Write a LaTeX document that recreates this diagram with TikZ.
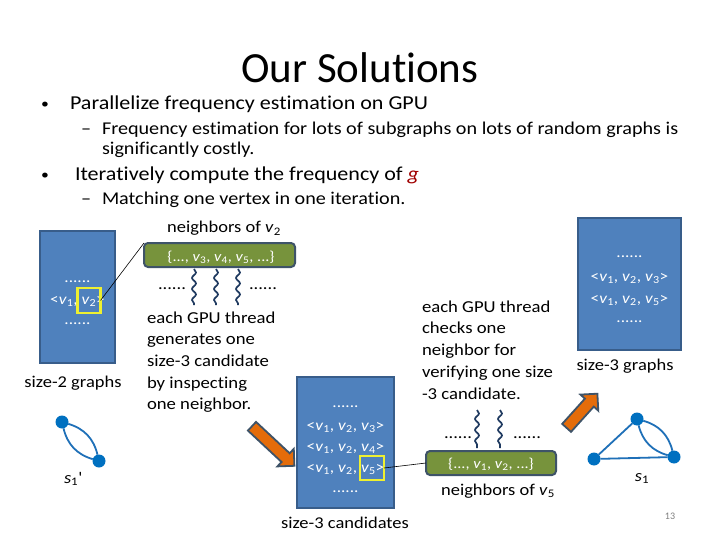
\documentclass[tikz,border=0pt]{standalone}
\usepackage{fontspec}
\setmainfont{Carlito}[FakeStretch=1.12, Ligatures={TeX,NoCommon}]
\newfontfamily\titlefam{Carlito}[Ligatures={TeX,NoCommon}]
\usetikzlibrary{shapes.arrows,decorations.pathmorphing}
\definecolor{boxblue}{HTML}{4F81BD}
\definecolor{boxedge}{HTML}{385D8A}
\definecolor{bargreen}{HTML}{77933C}
\definecolor{baredge}{HTML}{3E5368}
\definecolor{arrorange}{HTML}{E46C0A}
\definecolor{squignavy}{HTML}{1F3A60}
\definecolor{gnode}{HTML}{0070C0}
\definecolor{gedge}{HTML}{1F70B8}
\definecolor{gred}{HTML}{A00000}
\definecolor{ysqc}{HTML}{EEF030}
\newcommand{\vx}[1]{\textit{v}\textsubscript{#1}}
\begin{document}
\begin{tikzpicture}[x=1pt,y=-1pt,
 every node/.style={inner sep=0pt, outer sep=0pt},
 titlefont/.style={font=\titlefam\fontsize{43}{50}\selectfont, anchor=base},
 bulletdot/.style={font=\fontsize{14}{16}\selectfont, anchor=base},
 lvlone/.style={font=\fontsize{19.7}{24}\selectfont, anchor=base west},
 lvltwo/.style={font=\fontsize{18}{20}\selectfont, anchor=base west, align=left},
 lbl/.style={font=\fontsize{16.5}{19}\selectfont, anchor=base},
 para/.style={font=\fontsize{16.7}{21.7}\selectfont, anchor=base west, align=left},
 bluebox/.style={draw=boxedge, fill=boxblue, line width=2pt},
 btxt/.style={font=\fontsize{15.4}{18}\selectfont, text=white, anchor=base},
 gtxt/.style={font=\fontsize{14.5}{18}\selectfont, text=white, anchor=base},
 greenbar/.style={draw=baredge, fill=bargreen, line width=2pt, rounded corners=4pt},
 ysq/.style={draw=ysqc, line width=2.2pt},
 squig/.style={draw=squignavy, line width=1.7pt, decorate, decoration={snake, segment length=11pt, amplitude=2pt}},
 bigarrow/.style={single arrow, draw=baredge, fill=arrorange, line width=1.8pt, minimum width=24pt, single arrow head extend=6pt, inner sep=5pt},
 gv/.style={circle, fill=gnode, minimum size=13pt},
 ge/.style={draw=gedge, line width=1.8pt},
 connector/.style={draw=black, line width=0.6pt}
]
\useasboundingbox (0,0) rectangle (720,540);
\fill[white] (0,0) rectangle (720,540);

% title and bullets
\node[titlefont] (title) at (360,83) {Our Solutions};
\node[bulletdot] (b1dot) at (45,109) {•};
\node[lvlone] (b1) at (70,110) {Parallelize frequency estimation on GPU};
\node[lvltwo] (s1dash) at (81,135) {–};
\node[lvltwo] (s1t) at (102,155) {Frequency estimation for lots of subgraphs on lots of random graphs is\\significantly costly.};
\node[bulletdot] (b2dot) at (45,180) {•};
\node[lvlone] (b2) at (75,181) {Iteratively compute the frequency of \textcolor{gred}{\textit{g}}};
\node[lvltwo] (s2dash) at (81,205) {–};
\node[lvltwo] (s2t) at (102,205) {Matching one vertex in one iteration.};

% left box
\node[bluebox, minimum width=75pt, minimum height=132pt] (box2) at (77.5,297) {};
\node[btxt] (l2a) at (77.5,282) {......};
\node[btxt] (l2b) at (77.5,304) {<\vx1, \vx2>};
\node[btxt] (l2c) at (77.5,324) {......};
\node[ysq, minimum width=23pt, minimum height=25pt] (sq1) at (89,300.5) {};
\node[lbl] (lab2) at (73,387) {size-2 graphs};

% s1' graph
\node[gv] (pa) at (62,422) {};
\node[gv] (pb) at (99,461) {};
\draw[ge] (pa) to[bend left=30] (pb);
\draw[ge] (pa) to[bend right=30] (pb);
\node[lbl] (lps) at (73,483) {\textit{s}\textsubscript{1}\textquotesingle};

% neighbors of v2
\node[lbl] (nb2) at (224,233) {neighbors of \vx2};
\node[greenbar, minimum width=151pt, minimum height=24pt] (gb1) at (219.5,255) {};
\node[gtxt] (gb1t) at (221,261) {\{..., \vx3, \vx4, \vx5, ...\}};
\draw[connector] (sq1.east) -- (gb1.north west);
\draw[squig] (194,269) -- (194,305);
\draw[squig] (216,269) -- (216,305);
\draw[squig] (238,269) -- (238,305);
\node[lbl] (d1l) at (172,289) {......};
\node[lbl] (d1r) at (263,289) {......};
\node[para] (p1) at (147,409.8) {each GPU thread\\generates one\\size-3 candidate\\by inspecting\\one neighbor.};

% arrow 1
\node[bigarrow, minimum height=58pt, rotate=-43] (ar1) at (271,444) {};

% middle box
\node[bluebox, minimum width=97pt, minimum height=131pt] (box3) at (345.5,442.5) {};
\node[btxt] (m1) at (345.5,407) {......};
\node[btxt] (m2) at (345.5,430) {<\vx1, \vx2, \vx3>};
\node[btxt] (m3) at (345.5,451) {<\vx1, \vx2, \vx4>};
\node[btxt] (m4) at (345.5,472) {<\vx1, \vx2, \vx5>};
\node[btxt] (m5) at (345.5,492) {......};
\node[ysq, minimum width=24pt, minimum height=24pt] (sq2) at (372,468) {};
\node[lbl] (lab3c) at (345,528) {size-3 candidates};

% neighbors of v5
\node[para] (p2) at (422,399) {each GPU thread\\checks one\\neighbor for\\verifying one size\\-3 candidate.};
\draw[squig] (477,410) -- (477,448);
\draw[squig] (500,410) -- (500,448);
\node[lbl] (d2l) at (458,438) {......};
\node[lbl] (d2r) at (527,438) {......};
\node[greenbar, minimum width=130pt, minimum height=24pt] (gb2) at (491,463) {};
\node[gtxt] (gb2t) at (491,468) {\{..., \vx1, \vx2, ...\}};
\draw[connector] (sq2.east) -- (gb2.west);
\node[lbl] (nb5) at (498,495) {neighbors of \vx5};

% arrow 2
\node[bigarrow, minimum height=46pt, rotate=48] (ar2) at (580,413) {};

% right box
\node[bluebox, minimum width=103pt, minimum height=132pt] (box3g) at (629.5,284) {};
\node[btxt] (r1) at (629.5,258) {......};
\node[btxt] (r2) at (629.5,281) {<\vx1, \vx2, \vx3>};
\node[btxt] (r3) at (629.5,303) {<\vx1, \vx2, \vx5>};
\node[btxt] (r4) at (629.5,322) {......};
\node[lbl] (lab3g) at (625,370) {size-3 graphs};

% s1 graph
\node[gv] (qt) at (637,419) {};
\node[gv] (ql) at (594,459) {};
\node[gv] (qr) at (674,457) {};
\draw[ge] (qt) -- (ql);
\draw[ge] (ql) -- (qr);
\draw[ge] (qt) to[bend left=30] (qr);
\draw[ge] (qt) to[bend right=30] (qr);
\node[lbl] (ls1) at (642,481) {\textit{s}\textsubscript{1}};

\node[font=\titlefam\fontsize{10}{12}\selectfont, text=gray, anchor=base] (pg) at (670,519) {13};
\end{tikzpicture}
\end{document}
